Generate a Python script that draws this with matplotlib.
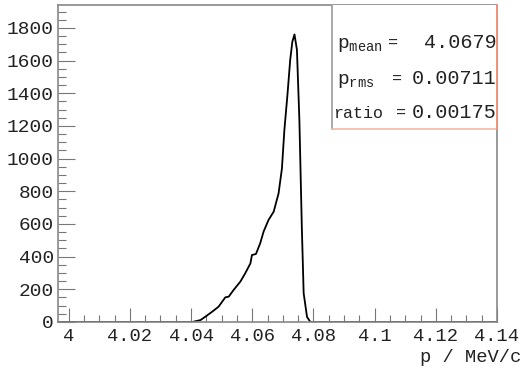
import numpy as np
import matplotlib
matplotlib.use('Agg')
import matplotlib.pyplot as plt
from matplotlib.ticker import MultipleLocator
from matplotlib.patches import Rectangle

# momentum distribution
p = [3.9965, 4.0404, 4.0431, 4.0447, 4.0469, 4.0490, 4.0512, 4.0523, 4.0539,
     4.0561, 4.0577, 4.0594, 4.0599, 4.0612, 4.0626, 4.0637, 4.0653, 4.0670,
     4.0686, 4.0697, 4.0705, 4.0715, 4.0724, 4.0731, 4.0738, 4.0746, 4.0754,
     4.0757, 4.0762, 4.0768, 4.0779, 4.0790, 4.14]
counts = [0, 0, 12, 33, 63, 94, 151, 155, 196,
          247, 298, 359, 410, 416, 482, 553, 624, 675,
          787, 940, 1176, 1390, 1604, 1715, 1760, 1666, 1237,
          992, 582, 176, 31, 0, 0]

stat_values = ['4.0679', '0.00711', '0.00175']

mono = 'Liberation Mono'
fig = plt.figure(figsize=(5.21, 3.70), dpi=100)
ax = fig.add_axes([58/521, 1-322/370, 439/521, 317/370])

ax.plot(p, counts, color='black', lw=1.3)
ax.set_xlim(3.9965, 4.14)
ax.set_ylim(0, 1940)

ax.xaxis.set_major_locator(MultipleLocator(0.02))
ax.xaxis.set_minor_locator(MultipleLocator(0.005))
ax.yaxis.set_major_locator(MultipleLocator(200))
ax.yaxis.set_minor_locator(MultipleLocator(50))
ax.tick_params(which='both', direction='in', color='#777777', top=False, right=False)
ax.tick_params(which='major', length=10, width=0.8)
ax.tick_params(which='minor', length=5, width=0.8)
ax.tick_params(axis='y', which='major', length=12)
ax.tick_params(axis='y', which='minor', length=6)
ax.tick_params(axis='x', pad=4)
ax.tick_params(axis='y', pad=3)
ax.set_xticks(np.arange(4.0, 4.141, 0.02))
ax.set_xticklabels(['4', '4.02', '4.04', '4.06', '4.08', '4.1', '4.12', '4.14'])
for lab in ax.get_yticklabels():
    lab.set_family(mono)
    lab.set_fontsize(14)
    lab.set_color('#222222')
for lab in ax.get_xticklabels():
    lab.set_family(mono)
    lab.set_fontsize(13.5)
    lab.set_color('#222222')
for s in ax.spines.values():
    s.set_color('#888888')
    s.set_linewidth(1.2)

fig.text(1.0, 1-362/370, 'p / MeV/c', family=mono, fontsize=13.5,
         ha='right', va='baseline', color='#222222')

# stats box
x0 = (332-58)/439
y0 = (322-129)/317
ax.add_patch(Rectangle((x0, y0), 1-x0, 1-y0, transform=ax.transAxes,
                       facecolor='white', edgecolor='none', zorder=3))
ax.plot([x0, x0], [y0, 1], transform=ax.transAxes, color='#999999', lw=1.2, zorder=4)
ax.plot([x0, 1], [y0, y0], transform=ax.transAxes, color='#f2b8a8', lw=1.2, zorder=4)
ax.plot([1, 1], [y0, 1], transform=ax.transAxes, color='#f0907a', lw=1.4, zorder=4, clip_on=False)

txt = dict(family=mono, ha='left', va='baseline', color='#222222', zorder=5)
rows_y = [48, 84, 118]
fig.text(337/521, 1-rows_y[0]/370, r'$\mathregular{p_{mean}}$', fontsize=14, **txt)
fig.text(388/521, 1-rows_y[0]/370, '=', fontsize=12, **txt)
fig.text(337/521, 1-rows_y[1]/370, r'$\mathregular{p_{rms}}$', fontsize=14, **txt)
fig.text(392/521, 1-rows_y[1]/370, '=', fontsize=12, **txt)
fig.text(333/521, 1-rows_y[2]/370, 'ratio', fontsize=12, **txt)
fig.text(396/521, 1-rows_y[2]/370, '=', fontsize=12, **txt)
for val, yy in zip(stat_values, rows_y):
    fig.text(497/521, 1-yy/370, val, family=mono, fontsize=14.5,
             ha='right', va='baseline', color='#222222', zorder=5)

fig.savefig('out.png', dpi=100)
